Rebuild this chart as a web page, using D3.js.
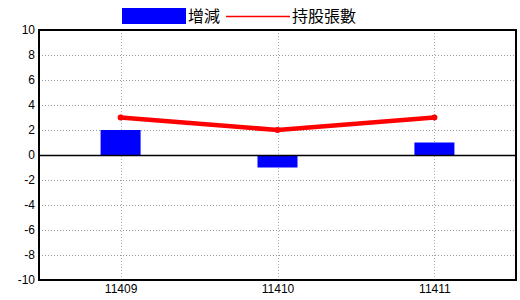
<!DOCTYPE html>
<html>
<head>
<meta charset="utf-8">
<script src="https://cdn.jsdelivr.net/npm/d3@7"></script>
<style>
  body { margin: 0; background: #fff; }
  svg { display: block; }
  .tick text { font-family: "Liberation Sans", Arial, sans-serif; font-size: 12px; fill: #000; }
  .legend text { font-family: "Noto Sans CJK TC", sans-serif; font-size: 16px; fill: #000; }
</style>
</head>
<body>
<div id="chart"></div>
<script>
// data
const periods = ['11409', '11410', '11411'];
const changeValues = [2, -1, 1];       // 增減
const holderValues = [3, 2, 3];        // 持股張數
const yTicks = [-10, -8, -6, -4, -2, 0, 2, 4, 6, 8, 10];

const width = 520, height = 300;
const margin = { top: 30, right: 4, bottom: 20, left: 39 };
const w = width - margin.left - margin.right;
const h = height - margin.top - margin.bottom;

const svg = d3.select('#chart').append('svg')
    .attr('width', width)
    .attr('height', height);

const g = svg.append('g').attr('transform', `translate(${margin.left},${margin.top})`);

const x = d3.scalePoint()
    .domain(periods)
    .range([0, w])
    .padding(0.52);

const y = d3.scaleLinear()
    .domain([-10, 10])
    .range([h, 0]);

// horizontal grid
g.append('g').selectAll('line')
    .data(yTicks.filter(d => d !== -10 && d !== 10 && d !== 0))
    .enter().append('line')
    .attr('x1', 0).attr('x2', w)
    .attr('y1', d => Math.round(y(d)) + 0.5).attr('y2', d => Math.round(y(d)) + 0.5)
    .attr('stroke', '#999')
    .attr('stroke-dasharray', '1,2');

// vertical grid
g.append('g').selectAll('line')
    .data(periods)
    .enter().append('line')
    .attr('x1', d => Math.round(x(d)) + 0.5).attr('x2', d => Math.round(x(d)) + 0.5)
    .attr('y1', 0).attr('y2', h)
    .attr('stroke', '#9fb3c8')
    .attr('stroke-dasharray', '1,2');

// bars
const barW = 40;
g.append('g').selectAll('rect')
    .data(periods)
    .enter().append('rect')
    .attr('x', d => x(d) - barW / 2)
    .attr('y', (d, i) => y(Math.max(0, changeValues[i])))
    .attr('width', barW)
    .attr('height', (d, i) => Math.abs(y(changeValues[i]) - y(0)))
    .attr('fill', '#0000ff');

// zero line
g.append('line')
    .attr('x1', 0).attr('x2', w)
    .attr('y1', y(0) + 0.5).attr('y2', y(0) + 0.5)
    .attr('stroke', '#000')
    .attr('stroke-width', 1.5);

// line series
const line = d3.line()
    .x((d, i) => x(periods[i]))
    .y(d => y(d));

g.append('path')
    .datum(holderValues)
    .attr('d', line)
    .attr('fill', 'none')
    .attr('stroke', '#ff0000')
    .attr('stroke-width', 4.5);

g.append('g').selectAll('circle')
    .data(holderValues)
    .enter().append('circle')
    .attr('cx', (d, i) => x(periods[i]))
    .attr('cy', d => y(d))
    .attr('r', 3)
    .attr('fill', '#ff0000');

// frame
g.append('rect')
    .attr('x', 0).attr('y', 0)
    .attr('width', w).attr('height', h)
    .attr('fill', 'none')
    .attr('stroke', '#000')
    .attr('stroke-width', 2);

// axes
const yAxis = d3.axisLeft(y).tickValues(yTicks).tickFormat(d => String(d)).tickSize(0).tickPadding(4);
g.append('g').call(yAxis).select('.domain').remove();

const xAxis = d3.axisBottom(x).tickSize(0).tickPadding(4);
g.append('g')
    .attr('transform', `translate(0,${h})`)
    .call(xAxis)
    .select('.domain').remove();

// legend
const legend = svg.append('g').attr('class', 'legend');
legend.append('rect')
    .attr('x', 122).attr('y', 8)
    .attr('width', 64).attr('height', 16)
    .attr('fill', '#0000ff');
legend.append('text')
    .attr('x', 188).attr('y', 16)
    .attr('dy', '0.35em')
    .text('增減');
legend.append('line')
    .attr('x1', 226).attr('x2', 290)
    .attr('y1', 16.5).attr('y2', 16.5)
    .attr('stroke', '#ff0000')
    .attr('stroke-width', 1.5);
legend.append('text')
    .attr('x', 292).attr('y', 16)
    .attr('dy', '0.35em')
    .text('持股張數');
</script>
</body>
</html>
